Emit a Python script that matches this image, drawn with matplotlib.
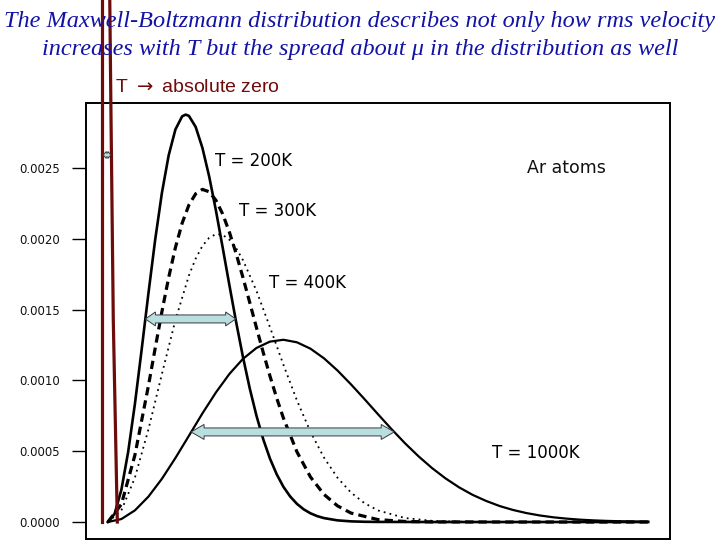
import matplotlib
matplotlib.use('Agg')
import matplotlib.pyplot as plt
from matplotlib.patches import Polygon
from matplotlib.transforms import IdentityTransform

# ---- data (speed in m/s, probability density) ----
v_200 = [0, 25, 50, 75, 100, 125, 150, 175, 200, 225, 250, 275, 288, 300, 325, 350,
         375, 400, 425, 450, 475, 500, 525, 550, 575, 600, 625, 650, 675, 700, 725,
         750, 775, 800, 850, 900, 950, 1000, 1200, 1500, 2000]
f_200 = [0.0, 0.0000583, 0.000228, 0.000494, 0.000833, 0.001217, 0.001613, 0.001992,
         0.002324, 0.002589, 0.002772, 0.002865, 0.002877, 0.002868, 0.002790,
         0.002642, 0.002440, 0.002200, 0.001938, 0.001671, 0.001410, 0.001166,
         0.000945, 0.000751, 0.000585, 0.000448, 0.000337, 0.000248, 0.000180,
         0.000128, 0.0000895, 0.0000615, 0.0000415, 0.0000276, 0.0000116, 0.0000045,
         0.0000017, 0.0000006, 0.0, 0.0, 0.0]

v_300 = [0, 50, 100, 150, 175, 200, 225, 250, 275, 300, 325, 350, 375, 400, 425, 450,
         475, 500, 525, 550, 575, 600, 625, 650, 700, 750, 800, 850, 900, 1000, 1100,
         1200, 1500, 2000]
f_300 = [0.0, 0.000125, 0.000472, 0.000961, 0.001226, 0.001485, 0.001726, 0.001938,
         0.002111, 0.002239, 0.002318, 0.002349, 0.002332, 0.002272, 0.002175,
         0.002046, 0.001894, 0.001727, 0.001551, 0.001373, 0.001198, 0.001031,
         0.000875, 0.000733, 0.000495, 0.000318, 0.000195, 0.000114, 0.0000631,
         0.0000170, 0.0000038, 0.0000007, 0.0, 0.0]

v_400 = [0, 50, 100, 150, 200, 250, 300, 325, 350, 375, 400, 425, 450, 475, 500, 550,
         600, 650, 700, 750, 800, 850, 900, 950, 1000, 1100, 1200, 1300, 1400, 1600,
         2000]
f_400 = [0.0, 0.0000818, 0.000313, 0.000653, 0.001045, 0.001426, 0.001741, 0.001860,
         0.001950, 0.002007, 0.002033, 0.002028, 0.001993, 0.001933, 0.001850,
         0.001633, 0.001376, 0.001110, 0.000858, 0.000637, 0.000455, 0.000313,
         0.000208, 0.000133, 0.0000818, 0.0000281, 0.0000084, 0.0000022, 0.0000005,
         0.0, 0.0]

v_1000 = [0, 50, 100, 150, 200, 250, 300, 350, 400, 450, 500, 550, 600, 650, 700, 750,
          800, 850, 900, 950, 1000, 1050, 1100, 1150, 1200, 1250, 1300, 1350, 1400,
          1450, 1500, 1550, 1600, 1650, 1700, 1750, 1800, 1850, 1900, 1950, 2000]
f_1000 = [0.0, 0.0000209, 0.000082, 0.000179, 0.000305, 0.000452, 0.000609, 0.000767,
          0.000915, 0.001046, 0.001152, 0.001229, 0.001274, 0.001287, 0.001269,
          0.001224, 0.001156, 0.001070, 0.000972, 0.000868, 0.000761, 0.000656,
          0.000556, 0.000464, 0.000381, 0.000308, 0.000245, 0.000192, 0.000149,
          0.000113, 0.0000849, 0.0000629, 0.0000459, 0.0000330, 0.0000235,
          0.0000164, 0.0000113, 0.0000077, 0.0000052, 0.0000034, 0.0000023]

curve_labels = ["T = 200K", "T = 300K", "T = 400K", "T = 1000K"]

y_ticks = [0.0, 0.0005, 0.0010, 0.0015, 0.0020, 0.0025]
y_tick_labels = ["0.0000", "0.0005", "0.0010", "0.0015", "0.0020", "0.0025"]

# spread arrows: (v_left, v_right, density)
spread_200 = (139, 473, 0.001434)
spread_1000 = (308, 1060, 0.000636)
spread_zero = (-17, 11, 0.002592)

# T -> 0 spike outline
spike_left_v = [-20, -20]
spike_left_f = [0.0, 0.00369]
spike_right_v = [35, 20, 11, 7]
spike_right_f = [0.0, 0.00143, 0.00296, 0.00369]

title_1 = "The Maxwell-Boltzmann distribution describes not only how rms velocity"
title_2 = "increases with T but the spread about \u03bc in the distribution as well"

# ---- figure ----
W, H = 720, 540
fig = plt.figure(figsize=(7.2, 5.4), dpi=100)
fig.patch.set_facecolor('white')

L, R, T, B = 86, 670, 103, 539
ax = fig.add_axes([L / W, 1 - B / H, (R - L) / W, (B - T) / H])
ax.set_xlim(-81, 2081)
ax.set_ylim(-0.00012, 0.002959)
ax.set_autoscale_on(False)

ax.plot(v_200, f_200, color='black', lw=1.9, solid_joinstyle='round')
ax.plot(v_300, f_300, color='black', lw=2.3, linestyle=(0, (2.6, 1.6)))
ax.plot(v_400, f_400, color='black', lw=1.3, linestyle=(0, (1.0, 2.3)))
ax.plot(v_1000, f_1000, color='black', lw=1.6, solid_joinstyle='round')

for sp in ax.spines.values():
    sp.set_linewidth(1.4)
    sp.set_color('black')

ax.set_xticks([])
ax.set_yticks(y_ticks)
ax.set_yticklabels(y_tick_labels)
ax.tick_params(axis='y', length=10, width=1.0, pad=9, labelsize=8.5,
               labelcolor='#111111')
for lab in ax.get_yticklabels():
    lab.set_family('DejaVu Sans')

def px(x, y):
    """pixel (from top-left) to axes fraction"""
    return (x - L) / (R - L), (B - y) / (B - T)

lab_font = dict(family='DejaVu Sans', fontsize=12, color='black', va='center', ha='left',
                transform=ax.transAxes)
ax.text(*px(215, 161), curve_labels[0], **lab_font)
ax.text(*px(239, 211), curve_labels[1], **lab_font)
ax.text(*px(269, 283), curve_labels[2], **lab_font)
ax.text(*px(492, 453), curve_labels[3], **lab_font)
ax.text(*px(527, 168), "Ar atoms", family='DejaVu Sans', fontsize=12.5, color='#111111',
        va='center', ha='left', transform=ax.transAxes)

# spike for T -> absolute zero
spike_col = '#6E0C0C'
ax.plot(spike_left_v, spike_left_f, color=spike_col, lw=2.3, clip_on=False, zorder=6)
ax.plot(spike_right_v, spike_right_f, color=spike_col, lw=2.3, clip_on=False, zorder=6)

fig.text(115 / W, 1 - 88 / H, "T $\\rightarrow$ absolute zero", family='Liberation Sans',
         fontsize=14, color=spike_col, va='center', ha='left')

# titles
title_col = '#1212A6'
fig.text(0.5, 1 - 22 / H, title_1, family='Liberation Serif', style='italic',
         fontsize=17.5, color=title_col, ha='center', va='center', zorder=1)
fig.text(0.5, 1 - 49 / H, title_2, family='Liberation Serif', style='italic',
         fontsize=17.5, color=title_col, ha='center', va='center', zorder=1)

def double_arrow(spread, body, head, hlen, fc='#B9DEE0', ec='#3a3a3a'):
    x1, x2, y = spread
    (X1, Y), (X2, _) = ax.transData.transform([(x1, y), (x2, y)])
    b, h = body / 2.0, head / 2.0
    pts = [(X1, Y), (X1 + hlen, Y + h), (X1 + hlen, Y + b), (X2 - hlen, Y + b),
           (X2 - hlen, Y + h), (X2, Y), (X2 - hlen, Y - h), (X2 - hlen, Y - b),
           (X1 + hlen, Y - b), (X1 + hlen, Y - h)]
    fig.add_artist(Polygon(pts, closed=True, facecolor=fc, edgecolor=ec, lw=0.7,
                           transform=IdentityTransform(), zorder=5))

double_arrow(spread_200, 8, 14, 10)
double_arrow(spread_1000, 8, 15, 13)
double_arrow(spread_zero, 4, 7, 3)

fig.savefig('out.png', dpi=100)
